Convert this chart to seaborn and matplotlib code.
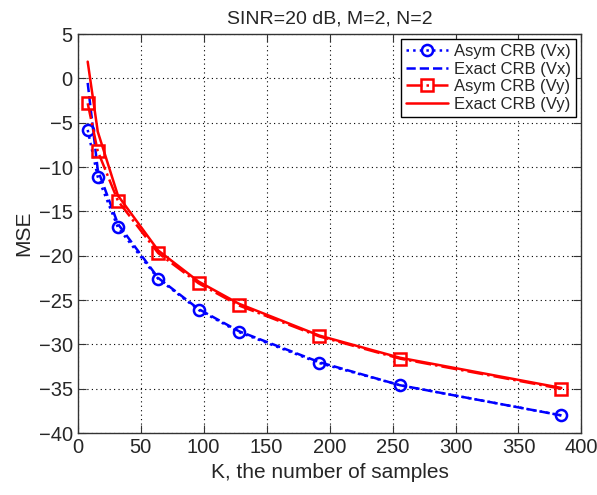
import numpy as np
import pandas as pd
import matplotlib
matplotlib.use('Agg')
import matplotlib.pyplot as plt
import seaborn as sns

# samples K
K = [8, 16, 32, 64, 96, 128, 192, 256, 384]

# MSE values (dB)
asym_vx = [-5.8, -11.1, -16.8, -22.6, -26.1, -28.6, -32.1, -34.6, -38.0]
exact_vx = [-0.5, -10.3, -16.4, -22.5, -26.0, -28.5, -32.0, -34.6, -38.0]
asym_vy = [-2.8, -8.2, -13.8, -19.7, -23.1, -25.6, -29.1, -31.6, -35.0]
exact_vy = [1.9, -6.0, -13.2, -19.4, -22.9, -25.4, -29.0, -31.5, -34.9]

sns.set_style('ticks')
plt.rcParams['font.family'] = ['Liberation Sans', 'DejaVu Sans']

df = pd.DataFrame({'K': K, 'asym_vx': asym_vx, 'exact_vx': exact_vx,
                   'asym_vy': asym_vy, 'exact_vy': exact_vy})

fig = plt.figure(figsize=(5.97, 4.95), dpi=100)
ax = fig.add_axes([0.130, 0.125, 0.844, 0.806])

sns.lineplot(x='K', y='asym_vx', data=df, ax=ax, color='#0000ff', linestyle=':',
             marker='o', markersize=8, markerfacecolor='none', markeredgecolor='#0000ff',
             markeredgewidth=1.8, linewidth=1.8, label='Asym CRB (Vx)')
sns.lineplot(x='K', y='exact_vx', data=df, ax=ax, color='#0000ff', linestyle='--',
             linewidth=1.8, label='Exact CRB (Vx)')
sns.lineplot(x='K', y='asym_vy', data=df, ax=ax, color='#ff0000', linestyle='-.',
             marker='s', markersize=8, markerfacecolor='none', markeredgecolor='#ff0000',
             markeredgewidth=1.8, linewidth=1.8, label='Asym CRB (Vy)')
sns.lineplot(x='K', y='exact_vy', data=df, ax=ax, color='#ff0000', linestyle='-',
             linewidth=1.8, label='Exact CRB (Vy)')

ax.set_xlim(0, 400)
ax.set_ylim(-40, 5)
ax.set_xticks(np.arange(0, 401, 50))
ax.set_yticks(np.arange(-40, 6, 5))
ax.set_yticklabels([f'{v}'.replace('-', '\u2212') for v in range(-40, 6, 5)])
ax.grid(True, linestyle=(0, (1, 3)), color='black', linewidth=0.8)
ax.tick_params(direction='in', top=True, right=True, labelsize=14.5, length=6,
               color='#333333')
for s in ax.spines.values():
    s.set_color('#333333')
    s.set_linewidth(1)

ax.set_title('SINR=20 dB, M=2, N=2', fontsize=14, pad=8)
ax.set_xlabel('K, the number of samples', fontsize=15)
ax.set_ylabel('MSE', fontsize=15, labelpad=4)

leg = ax.legend(loc='upper right', fontsize=12, frameon=True, fancybox=False,
                edgecolor='black', framealpha=1, handlelength=2.5,
                borderaxespad=0.3, borderpad=0.3, labelspacing=0.15, handletextpad=0.4)
leg.get_frame().set_linewidth(1)

fig.savefig('out.png', dpi=100)
